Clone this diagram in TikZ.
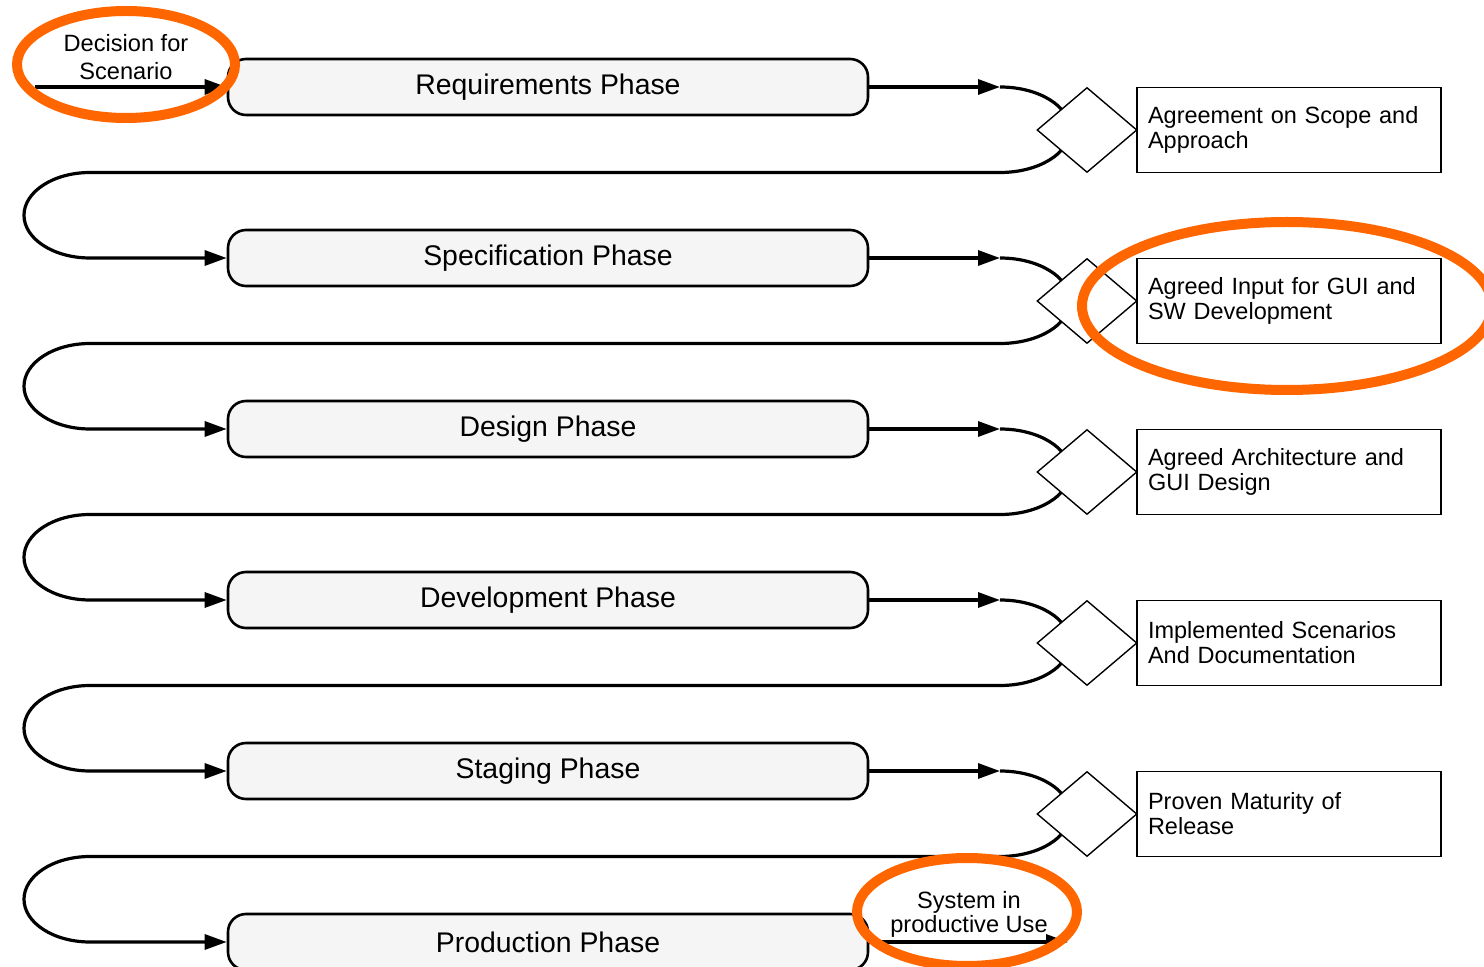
\documentclass[tikz,border=0pt]{standalone}
\usepackage{fontspec}
\setmainfont{Liberation Sans}
\usetikzlibrary{shapes.geometric,arrows.meta}
\definecolor{hl}{HTML}{FF6600}
\definecolor{phasefill}{HTML}{F5F5F5}
\begin{document}
\begin{tikzpicture}[x=0.5pt,y=-0.5pt,
  phase/.style={draw, line width=1.3pt, rounded corners=9pt, fill=phasefill,
    minimum width=320pt, minimum height=28pt, inner sep=0pt,
    font=\fontsize{14.2}{17}\selectfont},
  gate/.style={draw, diamond, fill=white, line width=0.7pt,
    minimum width=50pt, minimum height=42.5pt, inner sep=0pt},
  result/.style={draw, rectangle, fill=white, line width=0.7pt,
    minimum width=152pt, minimum height=42.5pt, inner xsep=5.5pt,
    text width=141pt, align=left, font=\fontsize{11.75}{12.5}\selectfont},
  flow/.style={line width=1.6pt},
  arr/.style={flow, -{Triangle[length=11pt,width=7.5pt]}},
  hlring/.style={draw=hl, line width=5pt},
  note/.style={align=center, inner sep=0pt}
]
\useasboundingbox (0,0) rectangle (1484,967);
\fill[white] (0,0) rectangle (1484,967);

% phases
\foreach \i/\t in {1/Requirements Phase, 2/Specification Phase, 3/Design Phase,
                   4/Development Phase, 5/Staging Phase, 6/Production Phase}{
  \pgfmathsetmacro\py{87+171*(\i-1)}
  \node[phase] (p\i) at (548,\py) {\t};
}

% connectors between phases
\foreach \i in {1,...,5}{
  \pgfmathsetmacro\py{87+171*(\i-1)}
  \pgfmathtruncatemacro\j{\i+1}
  \coordinate (a\i) at (1000,\py);
  \coordinate (c\i) at (90,\py+85.5);
  \draw[arr] (p\i.east) -- (a\i);
  \draw[arr] (a\i) arc[start angle=90,end angle=-90,x radius=35pt,y radius=21.375pt]
     -- (c\i) arc[start angle=90,end angle=270,x radius=33pt,y radius=21.375pt]
     -- (p\j.west);
}

% gates and results
\foreach \i/\t in {1/{Agreement on Scope and\\Approach},
                   2/{Agreed Input for GUI and\\SW Development},
                   3/{Agreed Architecture and\\GUI Design},
                   4/{Implemented Scenarios\\And Documentation},
                   5/{Proven Maturity of\\Release}}{
  \pgfmathsetmacro\py{87+171*(\i-1)+43}
  \node[gate] (d\i) at (1087,\py) {};
  \node[result] (r\i) at (1289,\py) {\t};
}

% start and end
\coordinate (s0) at (35,87);
\draw[arr] (s0) -- (p1.west);
\node[note, font=\fontsize{11.8}{14}\selectfont] (start) at (126,57) {Decision for\\Scenario};

\coordinate (z) at (1068,942);
\draw[arr] (p6.east) -- (z);
\node[note, font=\fontsize{11.8}{12}\selectfont] (finish) at (969,914) {System in\\productive Use};

% highlights
\draw[hlring] (126,64.5) ellipse[x radius=54.5pt, y radius=26.75pt];
\draw[hlring] (1287,306) ellipse[x radius=102.5pt, y radius=42pt];
\draw[hlring] (967,912) ellipse[x radius=55pt, y radius=27pt];
\end{tikzpicture}
\end{document}
